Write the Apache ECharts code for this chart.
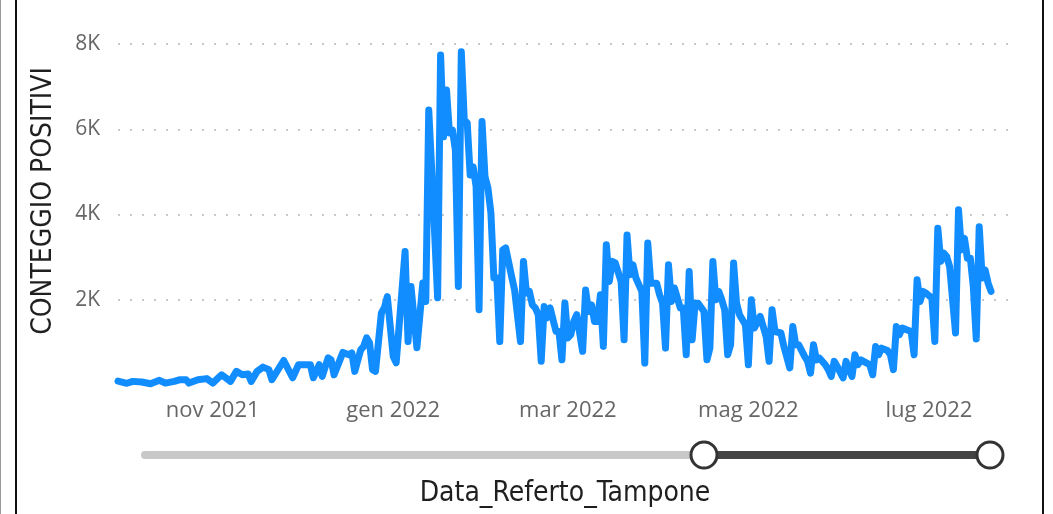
<!DOCTYPE html>
<html>
<head>
<meta charset="utf-8">
<script src="https://cdn.jsdelivr.net/npm/echarts@6/dist/echarts.min.js"></script>
<style>
  html, body { margin: 0; padding: 0; background: #fff; }
  #chart { width: 1053px; height: 514px; }
</style>
</head>
<body>
<div id="chart"></div>
<script>
// daily positives (offset = days after startDate)
var startDate = '2021-09-30';
var dayOffsets = [
    0, 3, 5, 8, 11, 14, 16, 19, 21, 23, 24, 27, 30, 32, 35, 38, 40, 42, 44, 45,
    47, 49, 51, 52, 56, 59, 61, 65, 66, 68, 69, 71, 72, 73, 76, 78, 79, 80, 82, 83,
    84, 85, 86, 87, 89, 90, 91, 93, 94, 97, 98, 99, 101, 103, 104, 105, 106, 108, 109, 110,
    111, 112, 113, 114, 115, 116, 117, 118, 119, 120, 121, 122, 123, 124, 125, 126, 127, 128, 129, 130,
    131, 133, 134, 136, 137, 138, 139, 140, 141, 142, 143, 144, 145, 146, 148, 149, 150, 151, 152, 153,
    154, 155, 157, 158, 159, 160, 161, 162, 163, 164, 165, 166, 167, 168, 170, 171, 172, 173, 174, 175,
    177, 178, 179, 180, 182, 183, 184, 185, 186, 187, 188, 189, 190, 191, 192, 193, 194, 195, 196, 198,
    199, 200, 201, 202, 203, 204, 205, 206, 207, 208, 209, 210, 212, 213, 214, 215, 217, 219, 220, 221,
    222, 224, 225, 227, 228, 229, 230, 232, 233, 234, 235, 236, 237, 239, 240, 241, 242, 243, 245, 246,
    247, 248, 249, 250, 251, 253, 254, 255, 256, 257, 258, 260, 261, 262, 263, 264, 265, 266, 268, 269,
    270, 271, 272, 273, 275, 276, 277, 278, 279, 280, 281, 283, 284, 285, 286, 287, 288, 289, 290, 291,
    292, 293, 294, 295
];
var positives = [
    90, 40, 85, 70, 30, 110, 45, 85, 125, 125, 45, 125, 150, 45, 240, 85, 320, 240, 260, 85,
    320, 420, 360, 125, 575, 170, 475, 475, 170, 475, 200, 640, 590, 240, 765, 710, 755, 320, 825, 905,
    1105, 990, 360, 320, 1690, 1810, 2075, 670, 520, 3130, 1020, 2310, 875, 2395, 1960, 6450, 5045, 2045, 7740, 5825,
    6920, 5910, 5980, 5515, 2310, 7820, 6215, 6145, 4925, 5120, 4655, 1765, 6180, 4890, 4625, 4040, 2515, 2515, 1020, 3170,
    3215, 2545, 2230, 1020, 2900, 2160, 2195, 1880, 1810, 1650, 555, 1840, 1575, 1810, 1255, 1255, 590, 1925, 1105, 1180,
    1490, 1650, 790, 2230, 1725, 1880, 1490, 1490, 2115, 905, 3290, 2430, 2900, 2865, 2430, 1060, 3520, 2585, 2820, 2510,
    2195, 515, 3330, 2390, 2390, 2115, 1920, 865, 2820, 1960, 2275, 2040, 1805, 1805, 710, 2660, 1060, 1920, 1920, 1725,
    590, 865, 2900, 2000, 2195, 2000, 1765, 710, 945, 2860, 1920, 1650, 1415, 475, 2000, 1335, 1610, 1140, 555, 1765,
    1255, 1220, 905, 400, 1375, 945, 945, 670, 560, 280, 945, 590, 630, 475, 360, 200, 555, 435, 165, 555,
    360, 200, 710, 475, 590, 515, 475, 240, 905, 710, 865, 810, 710, 360, 1375, 1180, 1335, 1310, 1255, 710,
    2470, 1960, 2195, 2155, 2040, 1020, 3680, 2900, 3095, 3015, 2780, 1220, 4110, 3170, 3440, 2975, 2975, 2310, 1080, 3715,
    2510, 2700, 2390, 2195
];
var xTickDates = ['2021-11-01', '2022-01-01', '2022-03-01', '2022-05-01', '2022-07-01'];
var xTickLabels = ['nov 2021', 'gen 2022', 'mar 2022', 'mag 2022', 'lug 2022'];
var yTickValues = [2000, 4000, 6000, 8000];
var yTickLabels = ['2K', '4K', '6K', '8K'];

function toTime(str) {
    var p = str.split('-');
    return Date.UTC(+p[0], +p[1] - 1, +p[2]);
}
var dayMs = 86400000;
// x axis runs in days since startDate
var xTickDays = xTickDates.map(function (s) {
    return Math.round((toTime(s) - toTime(startDate)) / dayMs);
});
var seriesData = dayOffsets.map(function (d, i) {
    return [d, positives[i]];
});

var myChart = echarts.init(document.getElementById('chart'), null, {renderer: 'canvas'});
var option = {
    backgroundColor: '#fff',
    animation: false,
    grid: {left: 118, right: 43, top: 44, bottom: 129},
    xAxis: {
        type: 'value',
        min: 0,
        max: 301.4,
        axisLine: {show: false},
        axisTick: {show: false},
        splitLine: {show: false},
        axisLabel: {
            customValues: xTickDays,
            margin: 15,
            color: '#666',
            fontFamily: 'Open Sans',
            fontSize: 22,
            formatter: function (v) {
                var i = xTickDays.indexOf(v);
                return i >= 0 ? xTickLabels[i] : '';
            }
        }
    },
    yAxis: {
        type: 'value',
        min: 0,
        max: 8000,
        interval: 2000,
        axisLine: {show: false},
        axisTick: {show: false},
        axisLabel: {
            margin: 18,
            color: '#666',
            fontFamily: 'Open Sans',
            fontSize: 21,
            formatter: function (v) {
                var i = yTickValues.indexOf(v);
                return i >= 0 ? yTickLabels[i] : '';
            }
        },
        splitLine: {
            lineStyle: {
                color: ['rgba(0,0,0,0)', '#c8c8c8', '#c8c8c8', '#c8c8c8', '#c8c8c8'],
                width: 2,
                type: [2, 10]
            }
        }
    },
    series: [{
        type: 'line',
        data: seriesData,
        showSymbol: false,
        lineStyle: {color: '#118DFF', width: 7, join: 'round', cap: 'round'},
        itemStyle: {color: '#118DFF'}
    }],
    graphic: [
        {type: 'rect', shape: {x: 0, y: 0, width: 1, height: 514}, style: {fill: '#9a9a9a'}},
        {type: 'rect', shape: {x: 15, y: 0, width: 2, height: 514}, style: {fill: '#111'}},
        {type: 'rect', shape: {x: 1042, y: 0, width: 2, height: 514}, style: {fill: '#111'}},
        {
            type: 'text', x: 44, y: 201, rotation: Math.PI / 2,
            style: {
                text: 'CONTEGGIO POSITIVI', fill: '#1f1f1f',
                font: '28px "DejaVu Sans Condensed", "DejaVu Sans"',
                textAlign: 'center', textVerticalAlign: 'middle'
            }
        },
        {
            type: 'text', x: 565, y: 494,
            style: {
                text: 'Data_Referto_Tampone', fill: '#1f1f1f',
                font: '28px "DejaVu Sans Condensed", "DejaVu Sans"',
                textAlign: 'center', textVerticalAlign: 'middle'
            }
        },
        {type: 'line', shape: {x1: 145, y1: 455, x2: 704, y2: 455},
            style: {stroke: '#c8c8c8', lineWidth: 8, lineCap: 'round'}},
        {type: 'line', shape: {x1: 704, y1: 455, x2: 990, y2: 455},
            style: {stroke: '#444', lineWidth: 8}},
        {type: 'circle', shape: {cx: 704, cy: 455, r: 13},
            style: {fill: '#fff', stroke: '#333', lineWidth: 3}},
        {type: 'circle', shape: {cx: 990, cy: 455, r: 13},
            style: {fill: '#fff', stroke: '#333', lineWidth: 3}}
    ]
};
myChart.setOption(option);
</script>
</body>
</html>
